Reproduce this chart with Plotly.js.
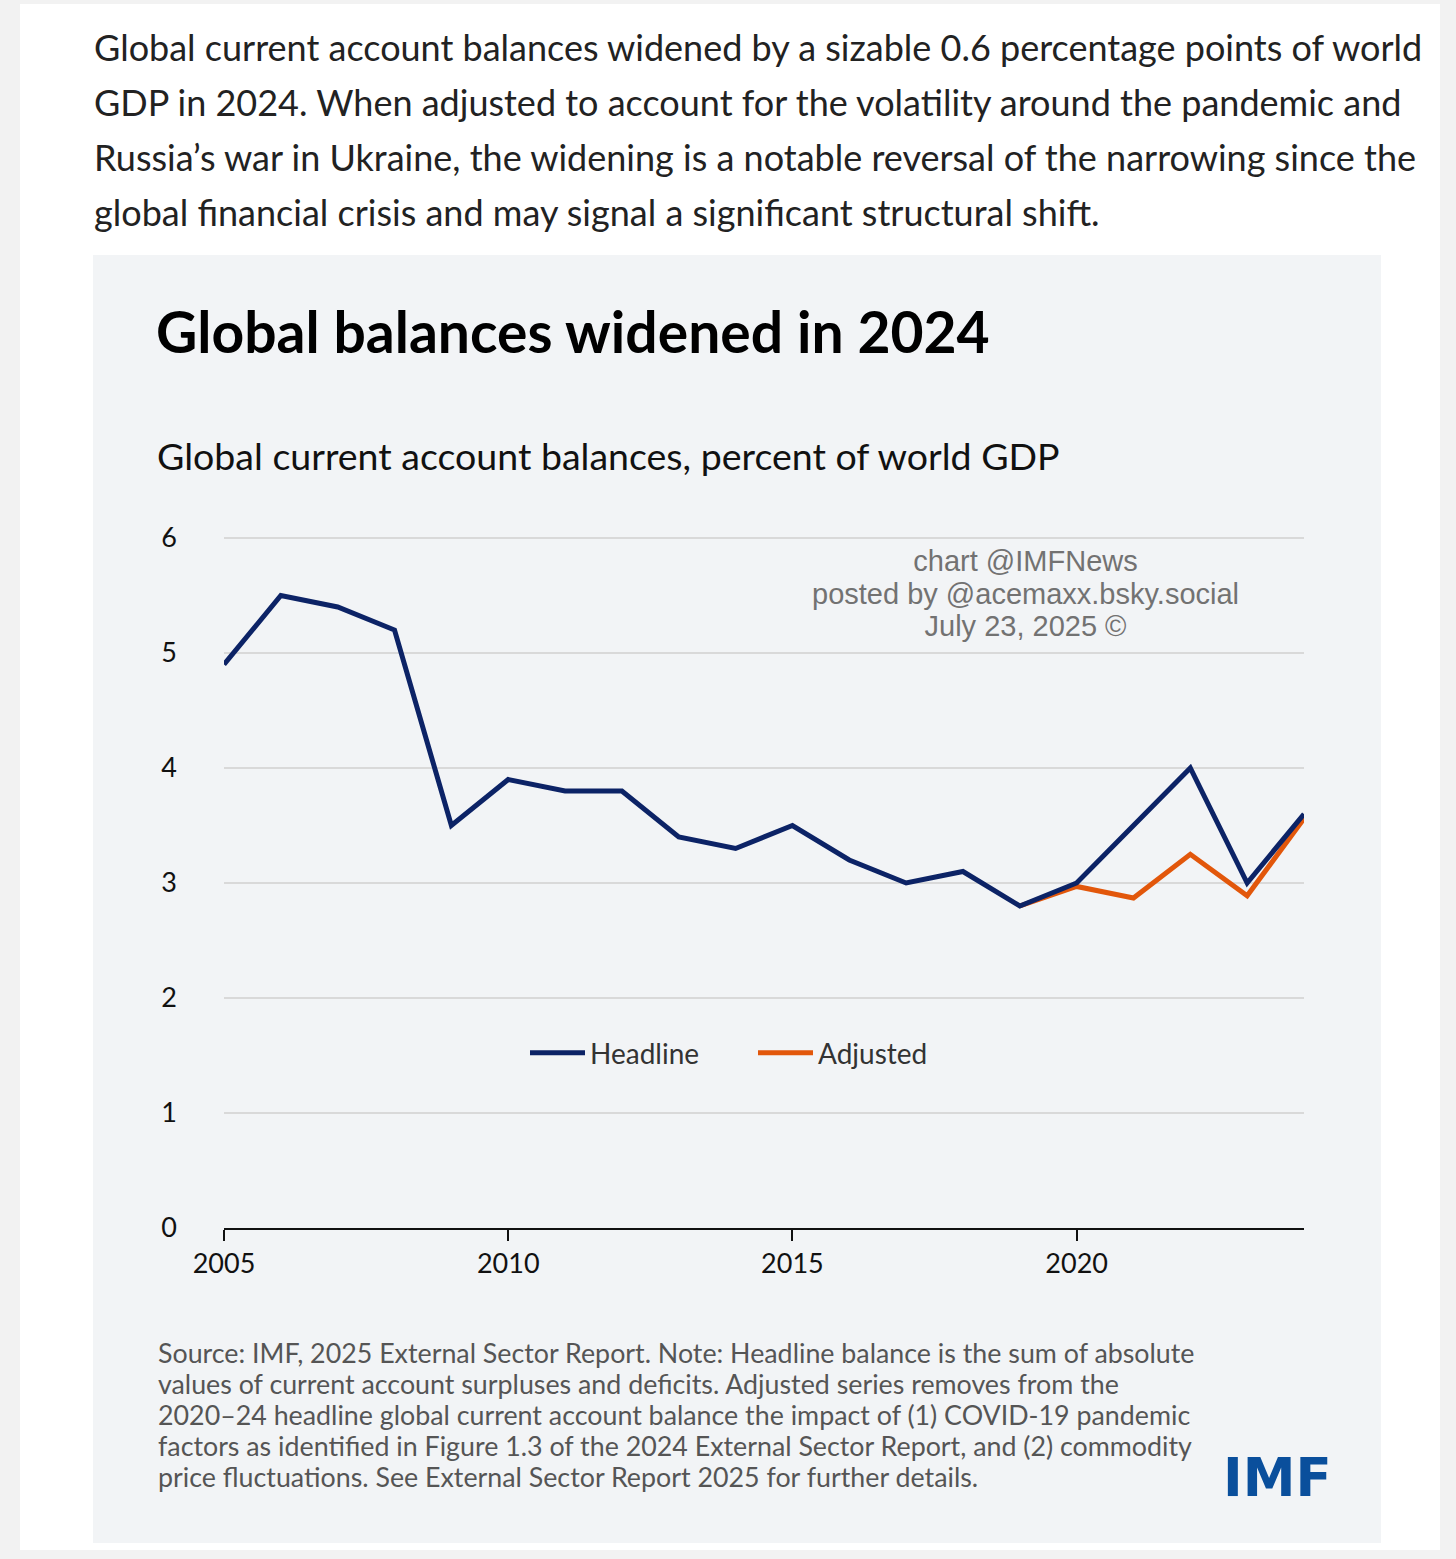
<!DOCTYPE html>
<html>
<head>
<meta charset="utf-8">
<script src="https://cdn.plot.ly/plotly-3.0.1.min.js"></script>
<style>
  html, body { margin: 0; padding: 0; background: #f2f2f2; }
  #chart { width: 1456px; height: 1559px; }
</style>
</head>
<body>
<div id="chart"></div>
<script>
// ---- data ----
const years = [2005, 2006, 2007, 2008, 2009, 2010, 2011, 2012, 2013, 2014,
               2015, 2016, 2017, 2018, 2019, 2020, 2021, 2022, 2023, 2024];
const headline = [4.9, 5.5, 5.4, 5.2, 3.5, 3.9, 3.8, 3.8, 3.4, 3.3,
                  3.5, 3.2, 3.0, 3.1, 2.8, 3.0, 3.5, 4.0, 3.0, 3.6];
const adjustedYears = [2019, 2020, 2021, 2022, 2023, 2024];
const adjusted = [2.8, 2.97, 2.87, 3.25, 2.89, 3.56];
const seriesNames = ["Headline", "Adjusted"];
const xTickVals = [2005, 2010, 2015, 2020];
const xTickText = ["2005", "2010", "2015", "2020"];
const yTickVals = [0, 1, 2, 3, 4, 5, 6];

const introLines = [
  "Global current account balances widened by a sizable 0.6 percentage points of world",
  "GDP in 2024. When adjusted to account for the volatility around the pandemic and",
  "Russia\u2019s war in Ukraine, the widening is a notable reversal of the narrowing since the",
  "global financial crisis and may signal a significant structural shift."
];
const chartTitle = "Global balances widened in 2024";
const chartSubtitle = "Global current account balances, percent of world GDP";
const noteLines = [
  "Source: IMF, 2025 External Sector Report. Note: Headline balance is the sum of absolute",
  "values of current account surpluses and deficits. Adjusted series removes from the",
  "2020\u201324 headline global current account balance the impact of (1) COVID-19 pandemic",
  "factors as identified in Figure 1.3 of the 2024 External Sector Report, and (2) commodity",
  "price fluctuations. See External Sector Report 2025 for further details."
];
const watermarkLines = ["chart @IMFNews", "posted by @acemaxx.bsky.social", "July 23, 2025 \u00a9"];
const logoText = "IMF";

// ---- layout geometry (pixels) ----
const W = 1456, H = 1559;
const L = 224, R = 1304, T = 535, B = 1228;
const unitPx = 115;                 // pixels per 1 percentage point
const yTop = (B - T) / unitPx;       // slightly above 6 so the 6 gridline shows
const px = x => (x - L) / (R - L);
const py = y => (B - y) / (B - T);

const FONT = "Lato, 'Noto Sans', sans-serif";
const ARIAL = "'Liberation Sans', Arial, sans-serif";

const annotations = [];
introLines.forEach((t, i) => annotations.push({
  text: t, xref: "paper", yref: "paper", x: px(92), y: py(47 + i * 55),
  xanchor: "left", yanchor: "middle", showarrow: false,
  font: { family: FONT, size: 36, color: "#222" }
}));
annotations.push({
  text: "<b>" + chartTitle + "</b>", xref: "paper", yref: "paper", x: px(154), y: py(331),
  xanchor: "left", yanchor: "middle", showarrow: false,
  font: { family: FONT, size: 57, color: "#000" }
});
annotations.push({
  text: chartSubtitle, xref: "paper", yref: "paper", x: px(155), y: py(455),
  xanchor: "left", yanchor: "middle", showarrow: false,
  font: { family: FONT, size: 37.5, color: "#111" }
});
noteLines.forEach((t, i) => annotations.push({
  text: t, xref: "paper", yref: "paper", x: px(156), y: py(1353 + i * 31),
  xanchor: "left", yanchor: "middle", showarrow: false,
  font: { family: FONT, size: 26.8, color: "#555" }
}));
annotations.push({
  text: "<b>" + logoText + "</b>", xref: "paper", yref: "paper", x: px(1277), y: py(1477),
  xanchor: "center", yanchor: "middle", showarrow: false,
  font: { family: "'DejaVu Sans', sans-serif", size: 53, color: "#0a4f9c" }
});
// watermark: one text block; base size 25 gives 1.3em = 32.5px line pitch, glyphs at 29px
annotations.push({
  text: watermarkLines.map(t => '<span style="font-size:29px">' + t + '</span>').join("<br>"),
  xref: "paper", yref: "paper", x: px(1025), y: py(593),
  xanchor: "center", yanchor: "middle", showarrow: false, align: "center",
  font: { family: ARIAL, size: 25, color: "#727272" }
});

const shapes = [
  { type: "rect", xref: "paper", yref: "paper", layer: "below",
    x0: px(20), x1: px(1440), y0: py(4), y1: py(1550),
    fillcolor: "#ffffff", line: { width: 0 } },
  { type: "rect", xref: "paper", yref: "paper", layer: "below",
    x0: px(93), x1: px(1381), y0: py(255), y1: py(1543),
    fillcolor: "#f2f4f6", line: { width: 0 } }
];

const traces = [
  { x: years, y: headline, name: seriesNames[0], type: "scatter", mode: "lines",
    line: { color: "#0c2366", width: 5 }, cliponaxis: false },
  { x: adjustedYears, y: adjusted, name: seriesNames[1], type: "scatter", mode: "lines",
    line: { color: "#e2570b", width: 5 }, cliponaxis: false }
];
// draw headline on top
const data = [traces[1], traces[0]];

const layout = {
  width: W, height: H,
  margin: { l: L, r: W - R, t: T, b: H - B, pad: 0 },
  paper_bgcolor: "#f2f2f2",
  plot_bgcolor: "rgba(0,0,0,0)",
  showlegend: true,
  legend: {
    orientation: "h", x: px(753), y: py(1053), xanchor: "center", yanchor: "middle",
    bgcolor: "rgba(0,0,0,0)", font: { family: FONT, size: 28, color: "#333" },
    traceorder: "reversed", itemwidth: 55, entrywidth: 158
  },
  xaxis: {
    range: [2005, 2024], tickvals: xTickVals, ticktext: xTickText,
    showgrid: false, zeroline: false, showline: true, linecolor: "#111", linewidth: 2,
    ticks: "outside", ticklen: 11, tickwidth: 2, tickcolor: "#111",
    tickfont: { family: FONT, size: 27, color: "#111" }, fixedrange: true
  },
  yaxis: {
    range: [0, yTop], tickvals: yTickVals,
    showgrid: true, gridcolor: "#d9d9d9", gridwidth: 2, zeroline: false, showline: false,
    ticks: "", ticklabelstandoff: 46,
    tickfont: { family: FONT, size: 27, color: "#111" }, fixedrange: true
  },
  shapes: shapes,
  annotations: annotations
};

Plotly.newPlot("chart", data, layout, { displayModeBar: false, staticPlot: true });
</script>
</body>
</html>
